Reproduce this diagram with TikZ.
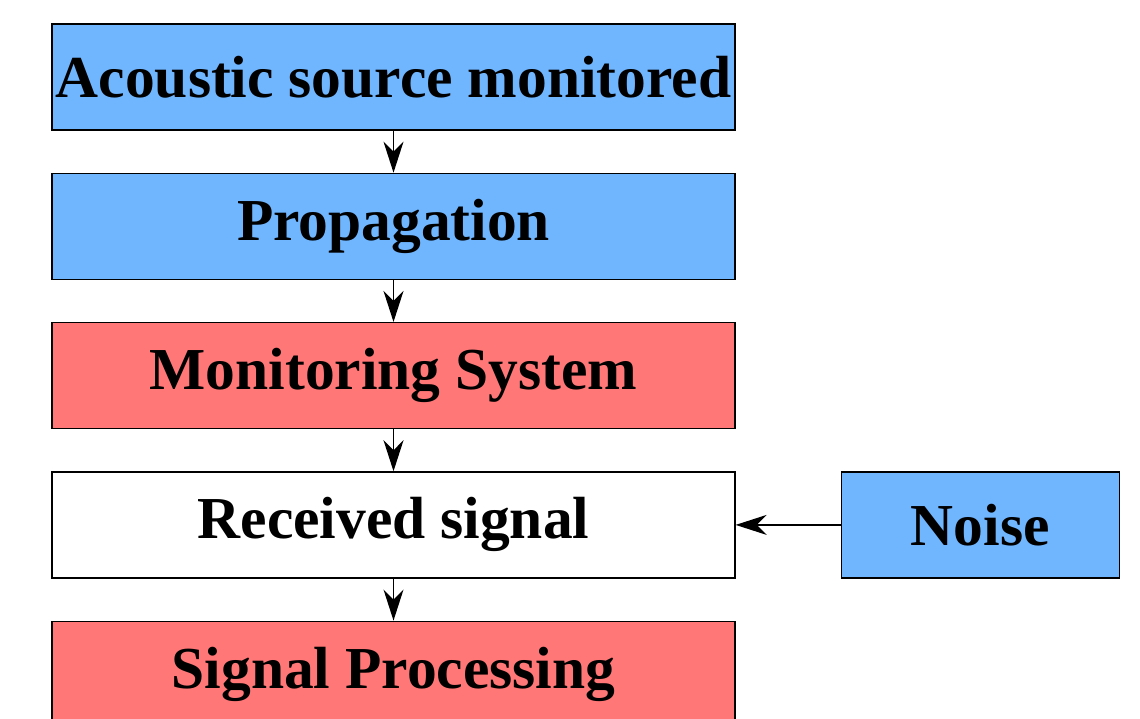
\documentclass[tikz,border=0pt]{standalone}
\usepackage{fontspec}
\setmainfont{Liberation Serif}
\usetikzlibrary{positioning,arrows.meta}
\definecolor{boxblue}{RGB}{112,182,255}
\definecolor{boxred}{RGB}{255,119,119}
\tikzset{
  stage/.style={draw, line width=1.3pt, minimum width=683pt, minimum height=106pt,
    inner sep=0pt, font=\fontsize{59.5}{62}\selectfont\bfseries},
  flow/.style={-{Stealth[length=31pt,width=20pt,inset=10pt]}, line width=1.3pt}
}
\begin{document}
\begin{tikzpicture}[x=1pt,y=-1pt]
    \useasboundingbox (0,0) rectangle (1140,718);
    \node[stage, fill=boxblue] (source) at (393.5,77) {Acoustic source monitored};
    \node[stage, fill=boxblue, below=42pt of source] (propagation) {Propagation};
    \node[stage, fill=boxred, below=42pt of propagation] (monitoring) {Monitoring System};
    \node[stage, fill=white, below=42pt of monitoring] (received) {Received signal};
    \node[stage, fill=boxred, below=42pt of received] (processing) {Signal Processing};
    \node[stage, fill=boxblue, minimum width=278pt, right=105pt of received] (noise) {Noise};
    \draw[flow] (source) -- (propagation);
    \draw[flow] (propagation) -- (monitoring);
    \draw[flow] (monitoring) -- (received);
    \draw[flow] (received) -- (processing);
    \draw[flow] (noise) -- (received);
\end{tikzpicture}
\end{document}
